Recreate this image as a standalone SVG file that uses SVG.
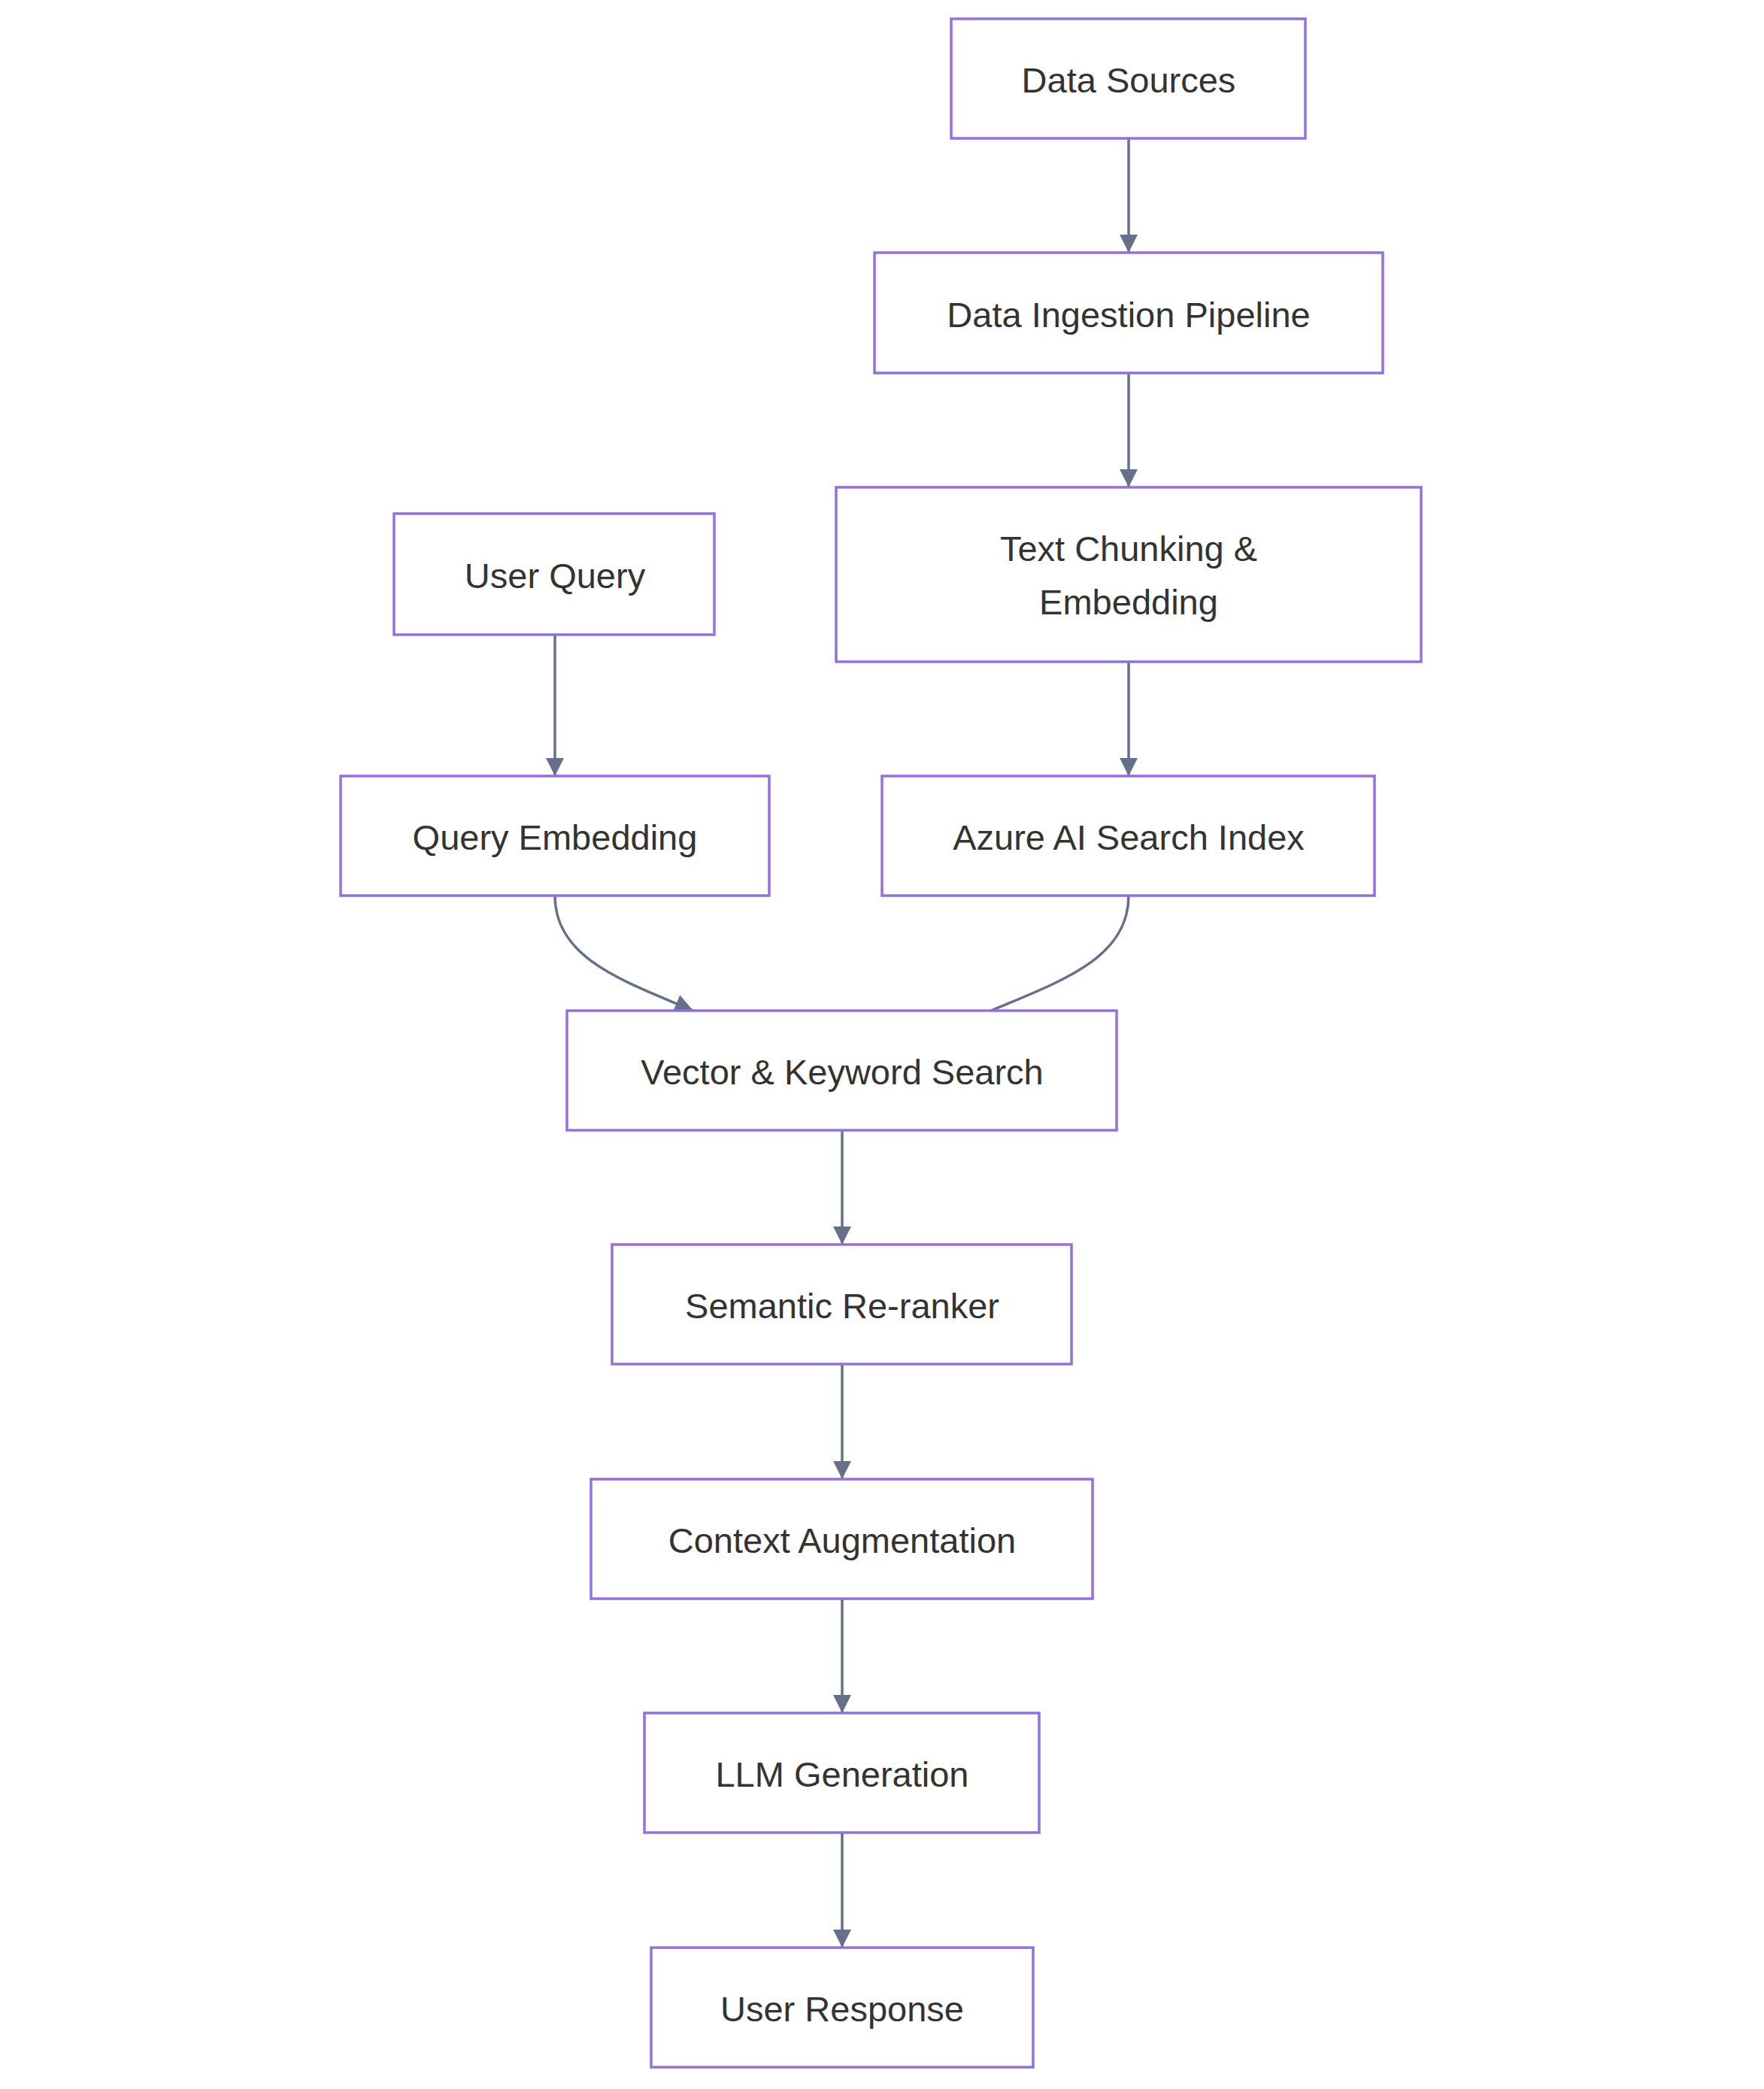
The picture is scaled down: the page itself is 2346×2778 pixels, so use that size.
<svg xmlns="http://www.w3.org/2000/svg" width="2346" height="2778" viewBox="0 0 2346 2778">
<style>
.n rect{fill:#fff;stroke:#9370DB;stroke-width:3.5}
.n text{font-family:"Liberation Sans",Arial,sans-serif;font-size:47px;fill:#333;text-anchor:middle;dominant-baseline:central}
.e path{fill:none;stroke:#647189;stroke-width:3.5}
</style>
<defs>
<marker id="a" viewBox="0 0 10 10" refX="10" refY="5" markerWidth="7" markerHeight="7" markerUnits="strokeWidth" orient="auto">
<path d="M0,0 L10,5 L0,10 z" fill="#647189"/>
</marker>
</defs>
<rect width="2346" height="2778" fill="#fff"/>
<g class="e">
<path d="M1501,184 V336" marker-end="url(#a)"/>
<path d="M1501,496 V648" marker-end="url(#a)"/>
<path d="M738,844 V1032" marker-end="url(#a)"/>
<path d="M1501,880 V1032" marker-end="url(#a)"/>
<path d="M738,1191 C738,1275 830,1305 922,1344" marker-end="url(#a)"/>
<path d="M1501,1191 C1501,1275 1410,1305 1318,1344"/>
<path d="M1120,1503 V1655" marker-end="url(#a)"/>
<path d="M1120,1814 V1967" marker-end="url(#a)"/>
<path d="M1120,2126 V2278" marker-end="url(#a)"/>
<path d="M1120,2437 V2590" marker-end="url(#a)"/>
</g>
<g id="ds" class="n"><rect x="1265" y="25" width="471" height="159"/><text x="1501" y="106">Data Sources</text></g>
<g id="dip" class="n"><rect x="1163" y="336" width="676" height="160"/><text x="1501" y="418">Data Ingestion Pipeline</text></g>
<g id="tce" class="n"><rect x="1112" y="648" width="778" height="232"/><text x="1501" y="729">Text Chunking &amp;</text><text x="1501" y="800">Embedding</text></g>
<g id="uq" class="n"><rect x="524" y="683" width="426" height="161"/><text x="738" y="765">User Query</text></g>
<g id="qe" class="n"><rect x="453" y="1032" width="570" height="159"/><text x="738" y="1113">Query Embedding</text></g>
<g id="az" class="n"><rect x="1173" y="1032" width="655" height="159"/><text x="1501" y="1113">Azure AI Search Index</text></g>
<g id="vk" class="n"><rect x="754" y="1344" width="731" height="159"/><text x="1120" y="1425">Vector &amp; Keyword Search</text></g>
<g id="sr" class="n"><rect x="814" y="1655" width="611" height="159"/><text x="1120" y="1736">Semantic Re-ranker</text></g>
<g id="ca" class="n"><rect x="786" y="1967" width="667" height="159"/><text x="1120" y="2048">Context Augmentation</text></g>
<g id="llm" class="n"><rect x="857" y="2278" width="525" height="159"/><text x="1120" y="2359">LLM Generation</text></g>
<g id="ur" class="n"><rect x="866" y="2590" width="508" height="159"/><text x="1120" y="2671">User Response</text></g>
</svg>
